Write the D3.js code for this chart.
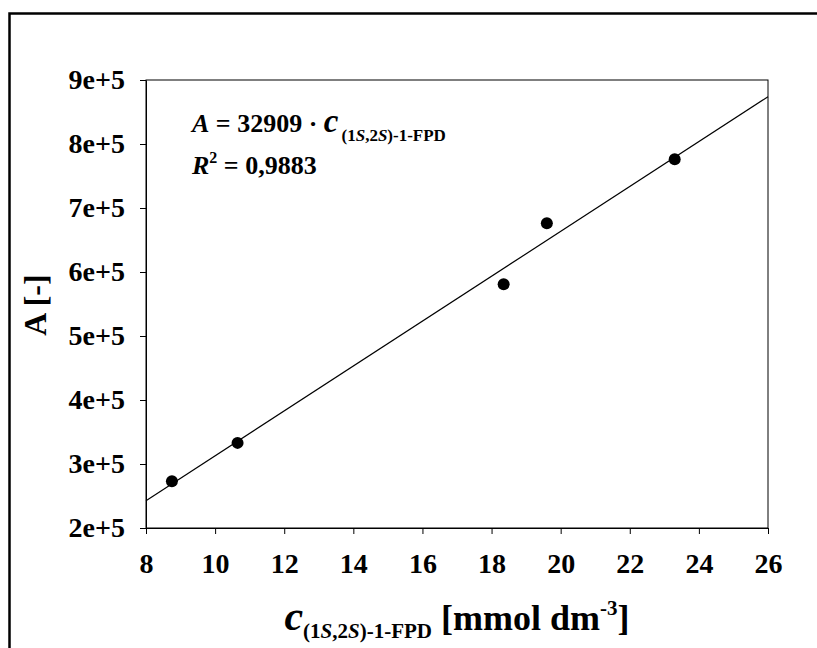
<!DOCTYPE html>
<html>
<head>
<meta charset="utf-8">
<script src="https://cdn.jsdelivr.net/npm/d3@7/dist/d3.min.js"></script>
<style>
  html, body { margin: 0; padding: 0; background: #fff; }
  svg { display: block; }
  text { font-family: "Liberation Serif", "Times New Roman", serif; font-weight: bold; fill: #000; }
</style>
</head>
<body>
<svg id="chart" width="817" height="648"></svg>
<script>
// ---- data ----
const concentration = [8.75, 10.65, 18.35, 19.6, 23.3];           // c (mmol dm^-3)
const area = [273000, 333000, 581000, 676000, 776000];            // A [-]
const xTicks = [8, 10, 12, 14, 16, 18, 20, 22, 24, 26];
const yTicks = [200000, 300000, 400000, 500000, 600000, 700000, 800000, 900000];
const yTickLabels = ["2e+5", "3e+5", "4e+5", "5e+5", "6e+5", "7e+5", "8e+5", "9e+5"];
const xDomain = [8, 26];
const yDomain = [200000, 900000];
const slopeLabel = "32909";
const r2Label = "0,9883";

// ---- layout ----
const W = 817, H = 648;
const plot = { left: 146, right: 768, top: 80, bottom: 528 };
const svg = d3.select("#chart");

// outer frame (extends past the picture edge)
svg.append("rect")
  .attr("x", 9.5).attr("y", 13.5)
  .attr("width", W + 20).attr("height", H + 20)
  .attr("fill", "none").attr("stroke", "#000").attr("stroke-width", 2.5);

const x = d3.scaleLinear().domain(xDomain).range([plot.left, plot.right]);
const y = d3.scaleLinear().domain(yDomain).range([plot.bottom, plot.top]);

// plot box
svg.append("rect")
  .attr("x", plot.left).attr("y", plot.top)
  .attr("width", plot.right - plot.left).attr("height", plot.bottom - plot.top)
  .attr("fill", "none").attr("stroke", "#000").attr("stroke-width", 1);

// axes
const xAxis = d3.axisBottom(x).tickValues(xTicks).tickFormat(d3.format("d"))
  .tickSizeInner(6).tickSizeOuter(0).tickPadding(19);
const yAxis = d3.axisLeft(y).tickValues(yTicks).tickFormat((d, i) => yTickLabels[i])
  .tickSizeInner(6).tickSizeOuter(0).tickPadding(15);

const gx = svg.append("g").attr("transform", `translate(0,${plot.bottom})`).call(xAxis);
const gy = svg.append("g").attr("transform", `translate(${plot.left},0)`).call(yAxis);
[gx, gy].forEach(g => {
  g.selectAll("path, line").attr("stroke", "#000").attr("stroke-width", 1);
  g.selectAll("text").attr("font-family", "Liberation Serif, Times New Roman, serif")
    .attr("font-weight", "bold").attr("font-size", 28).attr("fill", "#000");
});

// least-squares fit from the data
const n = concentration.length;
const mx = d3.mean(concentration), my = d3.mean(area);
let sxy = 0, sxx = 0;
for (let i = 0; i < n; i++) {
  sxy += (concentration[i] - mx) * (area[i] - my);
  sxx += (concentration[i] - mx) ** 2;
}
const slope = sxy / sxx, intercept = my - slope * mx;
const fitLine = xDomain.map(c => ({ c, a: intercept + slope * c }));

svg.append("path")
  .datum(fitLine)
  .attr("fill", "none").attr("stroke", "#000").attr("stroke-width", 1.2)
  .attr("d", d3.line().x(d => x(d.c)).y(d => y(d.a)));

// points
svg.selectAll("circle.pt")
  .data(concentration.map((c, i) => ({ c, a: area[i] })))
  .join("circle")
  .attr("class", "pt")
  .attr("cx", d => x(d.c)).attr("cy", d => y(d.a))
  .attr("r", 6).attr("fill", "#000");

// annotation
const t1 = svg.append("text").attr("x", 192).attr("y", 132).attr("font-size", 26);
t1.append("tspan").attr("font-style", "italic").text("A");
t1.append("tspan").text(" = " + slopeLabel + " · ");
t1.append("tspan").attr("font-style", "italic").attr("font-size", 33).text("c");
const sub1 = t1.append("tspan").attr("font-size", 17).attr("dy", 9).attr("dx", 3);
sub1.append("tspan").text("(1");
sub1.append("tspan").attr("font-style", "italic").text("S");
sub1.append("tspan").text(",2");
sub1.append("tspan").attr("font-style", "italic").text("S");
sub1.append("tspan").text(")-1-FPD");

const t2 = svg.append("text").attr("x", 192).attr("y", 174).attr("font-size", 26);
t2.append("tspan").attr("font-style", "italic").text("R");
t2.append("tspan").attr("font-size", 16).attr("dy", -11).text("2");
t2.append("tspan").attr("dy", 11).text(" = " + r2Label);

// y-axis label
svg.append("text")
  .attr("transform", "translate(46,305) rotate(-90)")
  .attr("text-anchor", "middle")
  .attr("font-size", 32)
  .text("A [-]");

// x-axis label
const xl = svg.append("text").attr("x", 457).attr("y", 630).attr("text-anchor", "middle").attr("font-size", 36);
xl.append("tspan").attr("font-style", "italic").attr("font-size", 42).text("c");
const sub2 = xl.append("tspan").attr("font-size", 21).attr("dy", 8);
sub2.append("tspan").text("(1");
sub2.append("tspan").attr("font-style", "italic").text("S");
sub2.append("tspan").text(",2");
sub2.append("tspan").attr("font-style", "italic").text("S");
sub2.append("tspan").text(")-1-FPD");
xl.append("tspan").attr("dy", -8).text(" [mmol dm");
xl.append("tspan").attr("font-size", 21).attr("dy", -15).text("-3");
xl.append("tspan").attr("dy", 15).text("]");
</script>
</body>
</html>
